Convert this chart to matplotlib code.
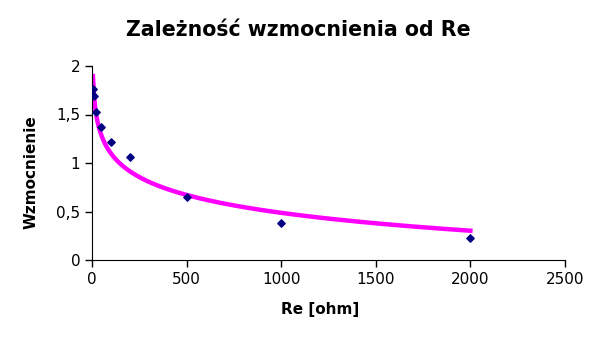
import numpy as np
from matplotlib import pyplot as plt
from matplotlib.ticker import FuncFormatter

# measured data
re_ohm = [5, 10, 20, 50, 100, 200, 500, 1000, 2000]
gain = [1.76, 1.69, 1.53, 1.37, 1.22, 1.06, 0.65, 0.38, 0.23]

x_ticks = [0, 500, 1000, 1500, 2000, 2500]
y_ticks = [0, 0.5, 1, 1.5, 2]

# logarithmic trendline fitted to the points (like the spreadsheet did)
b, a = np.polyfit(np.log(re_ohm), gain, 1)
x_fit = np.linspace(min(re_ohm), max(re_ohm), 400)
y_fit = a + b * np.log(x_fit)

fig = plt.figure(figsize=(5.97, 3.40), dpi=100)
ax = fig.add_axes([92 / 597, 1 - 260 / 340, (565 - 92) / 597, (260 - 66) / 340])

ax.plot(x_fit, y_fit, color='#ff00ff', lw=3.2, zorder=2)
ax.scatter(re_ohm, gain, marker='D', s=14, color='#000080', zorder=3)

ax.set_xlim(0, 2500)
ax.set_ylim(0, 2)
ax.set_xticks(x_ticks)
ax.set_yticks(y_ticks)
ax.yaxis.set_major_formatter(FuncFormatter(lambda v, p: ('%g' % v).replace('.', ',')))
ax.tick_params(direction='out', length=5, width=1, labelsize=11, colors='black')
for s in ['top', 'right']:
    ax.spines[s].set_visible(False)

ax.set_xlabel('Re [ohm]', fontsize=11, fontweight='bold')
ax.xaxis.set_label_coords((320 - 92) / 473, -(302 - 260) / 194)
ax.set_ylabel('Wzmocnienie', fontsize=11, fontweight='bold')
ax.yaxis.set_label_coords(-(92 - 39) / 473, (260 - 172) / 194)
fig.text(0.5, 1 - 30 / 340, 'Zależność wzmocnienia od Re', ha='center', va='center',
         fontsize=14.8, fontweight='bold')

plt.savefig('out.png', dpi=100)
plt.close()
